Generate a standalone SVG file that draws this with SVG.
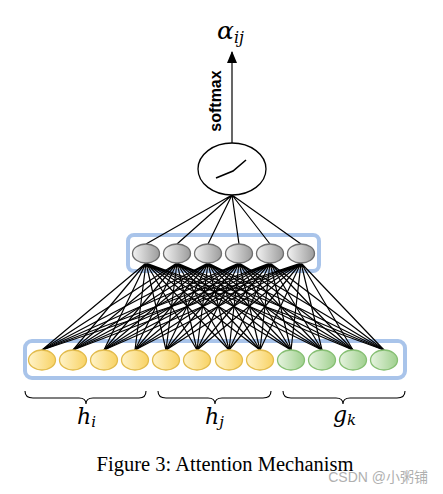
<svg xmlns="http://www.w3.org/2000/svg" width="443" height="494" viewBox="0 0 443 494">
<defs>
<linearGradient id="gy" x1="0" y1="0" x2="1" y2="0"><stop offset="0" stop-color="#fff3c8"/><stop offset="1" stop-color="#f8d264"/></linearGradient>
<linearGradient id="gg" x1="0" y1="0" x2="1" y2="0"><stop offset="0" stop-color="#e6f3df"/><stop offset="1" stop-color="#9fd08e"/></linearGradient>
<linearGradient id="gr" x1="0" y1="0" x2="1" y2="0"><stop offset="0" stop-color="#f2f2f2"/><stop offset="1" stop-color="#9c9c9c"/></linearGradient>
<marker id="arr" viewBox="0 0 12 10" refX="11" refY="5" markerWidth="12" markerHeight="12" markerUnits="userSpaceOnUse" orient="auto"><path d="M0 0L12 5L0 10z" fill="#000"/></marker>
</defs>
<style>
.box{fill:none;stroke:#a9c4ea;stroke-width:4}
.y{fill:url(#gy);stroke:#e2bb4c;stroke-width:1.3}
.g{fill:url(#gg);stroke:#86bf73;stroke-width:1.3}
.m{fill:url(#gr);stroke:#6e6e6e;stroke-width:1.3}
.c path{fill:none;stroke:#000;stroke-width:1.2}
.br{fill:none;stroke:#000;stroke-width:1.1}
</style>
<rect class="box" x="25" y="341" width="380" height="37" rx="7"/>
<rect class="box" x="128" y="235" width="191" height="36" rx="6"/>
<g id="connectors" class="c">
<path d="M146 263L42 350M146 263L73 350M146 263L104 350M146 263L135 350M146 263L166 350M146 263L197 350M146 263L229 350M146 263L260 350M146 263L291 350M146 263L322 350M146 263L353 350M146 263L384 350"/>
<path d="M177 263L42 350M177 263L73 350M177 263L104 350M177 263L135 350M177 263L166 350M177 263L197 350M177 263L229 350M177 263L260 350M177 263L291 350M177 263L322 350M177 263L353 350M177 263L384 350"/>
<path d="M208 263L42 350M208 263L73 350M208 263L104 350M208 263L135 350M208 263L166 350M208 263L197 350M208 263L229 350M208 263L260 350M208 263L291 350M208 263L322 350M208 263L353 350M208 263L384 350"/>
<path d="M239 263L42 350M239 263L73 350M239 263L104 350M239 263L135 350M239 263L166 350M239 263L197 350M239 263L229 350M239 263L260 350M239 263L291 350M239 263L322 350M239 263L353 350M239 263L384 350"/>
<path d="M270 263L42 350M270 263L73 350M270 263L104 350M270 263L135 350M270 263L166 350M270 263L197 350M270 263L229 350M270 263L260 350M270 263L291 350M270 263L322 350M270 263L353 350M270 263L384 350"/>
<path d="M301 263L42 350M301 263L73 350M301 263L104 350M301 263L135 350M301 263L166 350M301 263L197 350M301 263L229 350M301 263L260 350M301 263L291 350M301 263L322 350M301 263L353 350M301 263L384 350"/>
<path d="M146 244L232 195M177 244L232 195M208 244L232 195M239 244L232 195M270 244L232 195M301 244L232 195"/>
<path d="M232 143L232 52" marker-end="url(#arr)"/>
</g>
<g id="bottom-nodes">
<ellipse id="h1" class="y" cx="42" cy="360" rx="13.5" ry="10"/>
<ellipse id="h2" class="y" cx="73" cy="360" rx="13.5" ry="10"/>
<ellipse id="h3" class="y" cx="104" cy="360" rx="13.5" ry="10"/>
<ellipse id="h4" class="y" cx="135" cy="360" rx="13.5" ry="10"/>
<ellipse id="h5" class="y" cx="166" cy="360" rx="13.5" ry="10"/>
<ellipse id="h6" class="y" cx="197" cy="360" rx="13.5" ry="10"/>
<ellipse id="h7" class="y" cx="229" cy="360" rx="13.5" ry="10"/>
<ellipse id="h8" class="y" cx="260" cy="360" rx="13.5" ry="10"/>
<ellipse id="g1" class="g" cx="291" cy="360" rx="13.5" ry="10"/>
<ellipse id="g2" class="g" cx="322" cy="360" rx="13.5" ry="10"/>
<ellipse id="g3" class="g" cx="353" cy="360" rx="13.5" ry="10"/>
<ellipse id="g4" class="g" cx="384" cy="360" rx="13.5" ry="10"/>
</g>
<g id="middle-nodes">
<ellipse id="m1" class="m" cx="146" cy="253.5" rx="13.5" ry="9.5"/>
<ellipse id="m2" class="m" cx="177" cy="253.5" rx="13.5" ry="9.5"/>
<ellipse id="m3" class="m" cx="208" cy="253.5" rx="13.5" ry="9.5"/>
<ellipse id="m4" class="m" cx="239" cy="253.5" rx="13.5" ry="9.5"/>
<ellipse id="m5" class="m" cx="270" cy="253.5" rx="13.5" ry="9.5"/>
<ellipse id="m6" class="m" cx="301" cy="253.5" rx="13.5" ry="9.5"/>
</g>
<g id="activation">
<ellipse cx="232" cy="169" rx="34" ry="26" fill="#fff" stroke="#000" stroke-width="1.3"/>
<polyline points="216,178 233,171 246,160" fill="none" stroke="#000" stroke-width="1.6"/>
</g>
<text x="221" y="101" transform="rotate(-90 221 101)" text-anchor="middle" font-family="Liberation Sans,Arial,sans-serif" font-weight="bold" font-size="16">softmax</text>
<text x="217" y="39" font-family="DejaVu Serif,serif" font-style="italic" font-size="25">α<tspan font-size="16" dy="4">ij</tspan></text>
<g id="braces" class="br">
<path d="M25 391Q25 398 33 398L79 398Q86 398 86 404Q86 398 93 398L139 398Q146 398 146 391"/>
<path d="M158 391Q158 398 166 398L208 398Q215 398 215 404Q215 398 222 398L263 398Q271 398 271 391"/>
<path d="M283 391Q283 398 291 398L336 398Q343 398 343 404Q343 398 350 398L397 398Q405 398 405 391"/>
</g>
<text x="77" y="424" font-family="DejaVu Serif,serif" font-style="italic" font-size="22">h<tspan font-size="15" dy="3">i</tspan></text>
<text x="205" y="424" font-family="DejaVu Serif,serif" font-style="italic" font-size="22">h<tspan font-size="15" dy="3">j</tspan></text>
<text x="333" y="422" font-family="DejaVu Serif,serif" font-style="italic" font-size="22">g<tspan font-size="15" dy="3">k</tspan></text>
<text x="225" y="471" text-anchor="middle" font-family="Liberation Serif,serif" font-size="20.5">Figure 3: Attention Mechanism</text>
<text x="428" y="482" text-anchor="end" font-family="Liberation Sans,Noto Sans CJK SC,sans-serif" font-size="14" fill="#b0b0b0">CSDN @小粥铺</text>
</svg>
